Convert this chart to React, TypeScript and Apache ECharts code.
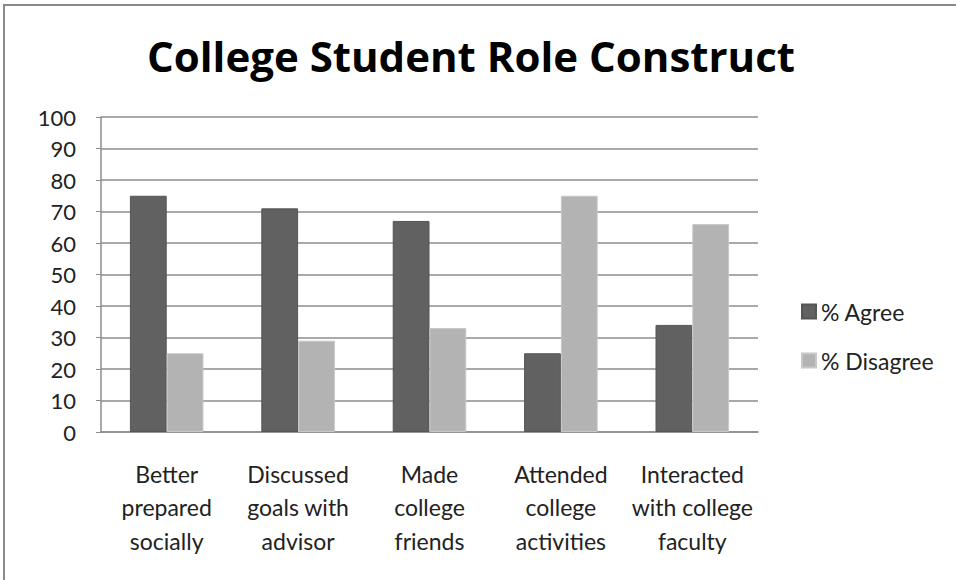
import React, { useEffect, useRef } from "react";
import * as echarts from "echarts";

const categories = [
  "Better\nprepared\nsocially",
  "Discussed\ngoals with\nadvisor",
  "Made\ncollege\nfriends",
  "Attended\ncollege\nactivities",
  "Interacted\nwith college\nfaculty",
];
const agree = [75, 71, 67, 25, 34];
const disagree = [25, 29, 33, 75, 66];
const seriesNames = ["% Agree", "% Disagree"];
const titleText = "College Student Role Construct";

export default function App() {
  const ref = useRef<HTMLDivElement>(null);
  useEffect(() => {
    document.body.style.margin = "0";
    const chart = echarts.init(ref.current!, null, { renderer: "svg" });
    const font = "Lato, 'Open Sans', sans-serif";
    chart.setOption({
      animation: false,
      backgroundColor: "#ffffff",
      title: {
        text: titleText,
        left: 466,
        textAlign: "center",
        top: 29,
        textStyle: { fontFamily: "'Open Sans', sans-serif", fontSize: 42, fontWeight: "bold", color: "#000" },
      },
      graphic: [
        {
          type: "rect",
          shape: { x: 4, y: 5, width: 1200, height: 1200 },
          style: { fill: "none", stroke: "#8a8a8a", lineWidth: 2 },
          silent: true,
        },
      ],
      legend: {
        orient: "vertical",
        left: 796,
        top: 295,
        itemWidth: 14,
        itemHeight: 14,
        itemGap: 26,
        icon: "rect",
        data: seriesNames,
        textStyle: { fontFamily: font, fontSize: 23, color: "#222" },
      },
      grid: { left: 101, right: 198, top: 117, bottom: 148, containLabel: false },
      xAxis: {
        type: "category",
        data: categories,
        axisLine: { lineStyle: { color: "#8c8c8c", width: 1.5 } },
        axisTick: { show: false },
        axisLabel: {
          interval: 0,
          margin: 25,
          fontFamily: font,
          fontSize: 23,
          lineHeight: 33.5,
          color: "#222",
        },
      },
      yAxis: {
        type: "value",
        min: 0,
        max: 100,
        interval: 10,
        axisLine: { show: true, lineStyle: { color: "#8c8c8c", width: 1.5 } },
        axisTick: { show: true, length: 5, lineStyle: { color: "#8c8c8c" } },
        splitLine: { lineStyle: { color: "#8c8c8c", width: 1.5 } },
        axisLabel: { margin: 25, fontFamily: font, fontSize: 22, color: "#222" },
      },
      series: [
        {
          name: seriesNames[0],
          type: "bar",
          data: agree,
          barGap: "0%",
          barCategoryGap: "44%",
          itemStyle: { color: "#616161", borderColor: "#555555", borderWidth: 1 },
        },
        {
          name: seriesNames[1],
          type: "bar",
          data: disagree,
          barGap: "0%",
          barCategoryGap: "44%",
          itemStyle: { color: "#b3b3b3", borderColor: "#c8c8c8", borderWidth: 1 },
        },
      ],
    });
    return () => chart.dispose();
  }, []);
  return <div ref={ref} style={{ width: 956, height: 580 }} />;
}
